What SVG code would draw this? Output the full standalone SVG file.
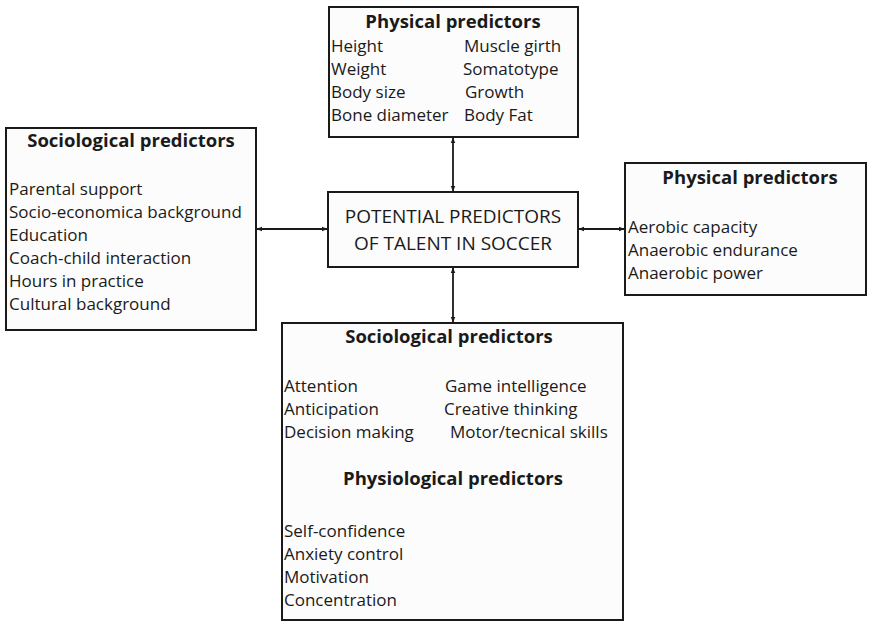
<svg xmlns="http://www.w3.org/2000/svg" width="869" height="622" viewBox="0 0 869 622">
<defs>
<marker id="ah" viewBox="0 0 10 10" refX="9" refY="5" markerWidth="6" markerHeight="6" orient="auto-start-reverse" markerUnits="userSpaceOnUse">
<path d="M0,1 L10,5 L0,9 z" fill="#1a1a1a"/>
</marker>
</defs>
<style>
.box{fill:#fcfcfc;stroke:#1a1a1a;stroke-width:2}
text{font-family:"Open Sans","Noto Sans","Liberation Sans",sans-serif;fill:#1a1a1a;font-size:17px}
.b{font-weight:bold;font-size:18.5px}
.c{text-anchor:middle}
.big{font-size:19px}
.con{stroke:#1a1a1a;stroke-width:1.8;fill:none;marker-start:url(#ah);marker-end:url(#ah)}
</style>
<rect width="869" height="622" fill="#ffffff"/>
<g id="connectors">
<line class="con" x1="453" y1="138" x2="453" y2="191"/>
<line class="con" x1="257" y1="229" x2="327" y2="229"/>
<line class="con" x1="579" y1="229" x2="624" y2="229"/>
<line class="con" x1="453" y1="268" x2="453" y2="322"/>
</g>
<g id="top-physical">
<rect class="box" x="329" y="7" width="249" height="130"/>
<text class="b c" x="453" y="28">Physical predictors</text>
<text x="331" y="52">Height</text>
<text x="331" y="75">Weight</text>
<text x="331" y="98">Body size</text>
<text x="331" y="121">Bone diameter</text>
<text x="464" y="52">Muscle girth</text>
<text x="463" y="75">Somatotype</text>
<text x="465" y="98">Growth</text>
<text x="464" y="121">Body Fat</text>
</g>
<g id="center">
<rect class="box" x="328" y="192" width="250" height="75"/>
<text class="c big" x="453" y="223">POTENTIAL PREDICTORS</text>
<text class="c big" x="453" y="250">OF TALENT IN SOCCER</text>
</g>
<g id="left-sociological">
<rect class="box" x="6" y="128" width="250" height="202"/>
<text class="b c" x="131" y="147">Sociological predictors</text>
<text x="9" y="195">Parental support</text>
<text x="9" y="218">Socio-economica background</text>
<text x="9" y="241">Education</text>
<text x="9" y="264">Coach-child interaction</text>
<text x="9" y="287">Hours in practice</text>
<text x="9" y="310">Cultural background</text>
</g>
<g id="right-physical">
<rect class="box" x="625" y="163" width="241" height="132"/>
<text class="b c" x="750" y="184">Physical predictors</text>
<text x="628" y="233">Aerobic capacity</text>
<text x="628" y="256">Anaerobic endurance</text>
<text x="628" y="279">Anaerobic power</text>
</g>
<g id="bottom">
<rect class="box" x="282" y="323" width="341" height="297"/>
<text class="b c" x="449" y="343">Sociological predictors</text>
<text x="284" y="392">Attention</text>
<text x="284" y="415">Anticipation</text>
<text x="284" y="438">Decision making</text>
<text x="445" y="392">Game intelligence</text>
<text x="444" y="415">Creative thinking</text>
<text x="450" y="438">Motor/tecnical skills</text>
<text class="b c" x="453" y="485">Physiological predictors</text>
<text x="284" y="537">Self-confidence</text>
<text x="284" y="560">Anxiety control</text>
<text x="284" y="583">Motivation</text>
<text x="284" y="606">Concentration</text>
</g>
</svg>
